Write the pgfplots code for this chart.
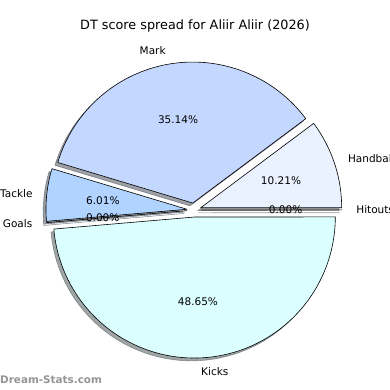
\documentclass[border=0pt]{standalone}
\usepackage{pgfplots}
\pgfplotsset{compat=1.18}
\usepackage{fontspec}
\setmainfont{DejaVu Sans}

\definecolor{handc}{RGB}{234,241,255}
\definecolor{markc}{RGB}{196,216,255}
\definecolor{tackc}{RGB}{176,212,255}
\definecolor{goalc}{RGB}{200,230,255}
\definecolor{kickc}{RGB}{219,255,255}
\definecolor{hitc}{RGB}{225,235,255}

\tikzset{lab/.style={font=\fontsize{10.5}{12}\selectfont, inner sep=0pt}}

% geometry (1 axis unit = 1 pt)
\def\Cx{194}\def\Cy{180}\def\R{141}\def\E{7.05}\def\Sh{2.82}

% #1 start percent, #2 percent value, #3 colour
\newcommand{\pieshadow}[3]{%
  \pgfmathsetmacro{\sa}{#1*3.6}%
  \pgfmathsetmacro{\sb}{(#1+#2)*3.6+0.01}%
  \pgfmathsetmacro{\sm}{(\sa+\sb)/2}%
  \pgfmathsetmacro{\cx}{\Cx+\E*cos(\sm)-\Sh}%
  \pgfmathsetmacro{\cy}{\Cy+\E*sin(\sm)-\Sh}%
  \edef\doit{\noexpand\addplot[fill=#3!30!black, fill opacity=0.5, draw=#3!30!black, draw opacity=0.5, line width=0.6pt, domain=\sa:\sb, samples=90]
    ({\cx+\R*cos(x)},{\cy+\R*sin(x)}) -- (axis cs:\cx,\cy) -- cycle;}%
  \doit}

% #1 start percent, #2 percent value, #3 colour, #4 label, #5 percent text
\newcommand{\pieslice}[5]{%
  \pgfmathsetmacro{\sa}{#1*3.6}%
  \pgfmathsetmacro{\sb}{(#1+#2)*3.6+0.01}%
  \pgfmathsetmacro{\sm}{(\sa+\sb)/2}%
  \pgfmathsetmacro{\cx}{\Cx+\E*cos(\sm)}%
  \pgfmathsetmacro{\cy}{\Cy+\E*sin(\sm)}%
  \pgfmathsetmacro{\lx}{\cx+1.1*\R*cos(\sm)}%
  \pgfmathsetmacro{\ly}{\cy+1.1*\R*sin(\sm)}%
  \pgfmathsetmacro{\px}{\cx+0.6*\R*cos(\sm)}%
  \pgfmathsetmacro{\py}{\cy+0.6*\R*sin(\sm)}%
  \pgfmathparse{cos(\sm)>0?1:0}%
  \ifnum\pgfmathresult=1 \def\anc{west}\else\def\anc{east}\fi
  \edef\doit{\noexpand\addplot[fill=#3, draw=black, line width=0.6pt, line join=round, domain=\sa:\sb, samples=90]
    ({\cx+\R*cos(x)},{\cy+\R*sin(x)}) -- (axis cs:\cx,\cy) -- cycle;
    \noexpand\node[lab, anchor=\anc] at (axis cs:\lx,\ly) {#4};
    \noexpand\node[lab, anchor=center] at (axis cs:\px,\py) {#5};}%
  \doit}

\begin{document}
\begin{tikzpicture}
\useasboundingbox (0,0) rectangle (390pt,390pt);
\begin{axis}[
  at={(0,0)}, anchor=south west,
  scale only axis, width=390pt, height=390pt,
  xmin=0, xmax=390, ymin=0, ymax=390,
  hide axis, clip=false,
]
% shadows
\pieshadow{0}{10.21}{handc}
\pieshadow{10.21}{35.14}{markc}
\pieshadow{45.35}{6.01}{tackc}
\pieshadow{51.36}{0}{goalc}
\pieshadow{51.36}{48.65}{kickc}
\pieshadow{100.01}{0}{hitc}
% wedges
\pieslice{0}{10.21}{handc}{Handball}{10.21\%}
\pieslice{10.21}{35.14}{markc}{Mark}{35.14\%}
\pieslice{45.35}{6.01}{tackc}{Tackle}{6.01\%}
\pieslice{51.36}{0}{goalc}{Goals}{0.00\%}
\pieslice{51.36}{48.65}{kickc}{Kicks}{48.65\%}
\pieslice{100.01}{0}{hitc}{Hitouts}{0.00\%}

\node[font=\fontsize{12.8}{15}\selectfont, inner sep=0pt] at (axis cs:195,364) {DT score spread for Aliir Aliir (2026)};
\node[font=\bfseries\fontsize{10.4}{12}\selectfont, text=black!42, inner sep=0pt, anchor=west] at (axis cs:0,10) {Dream-Stats.com};
\end{axis}
\end{tikzpicture}
\end{document}
